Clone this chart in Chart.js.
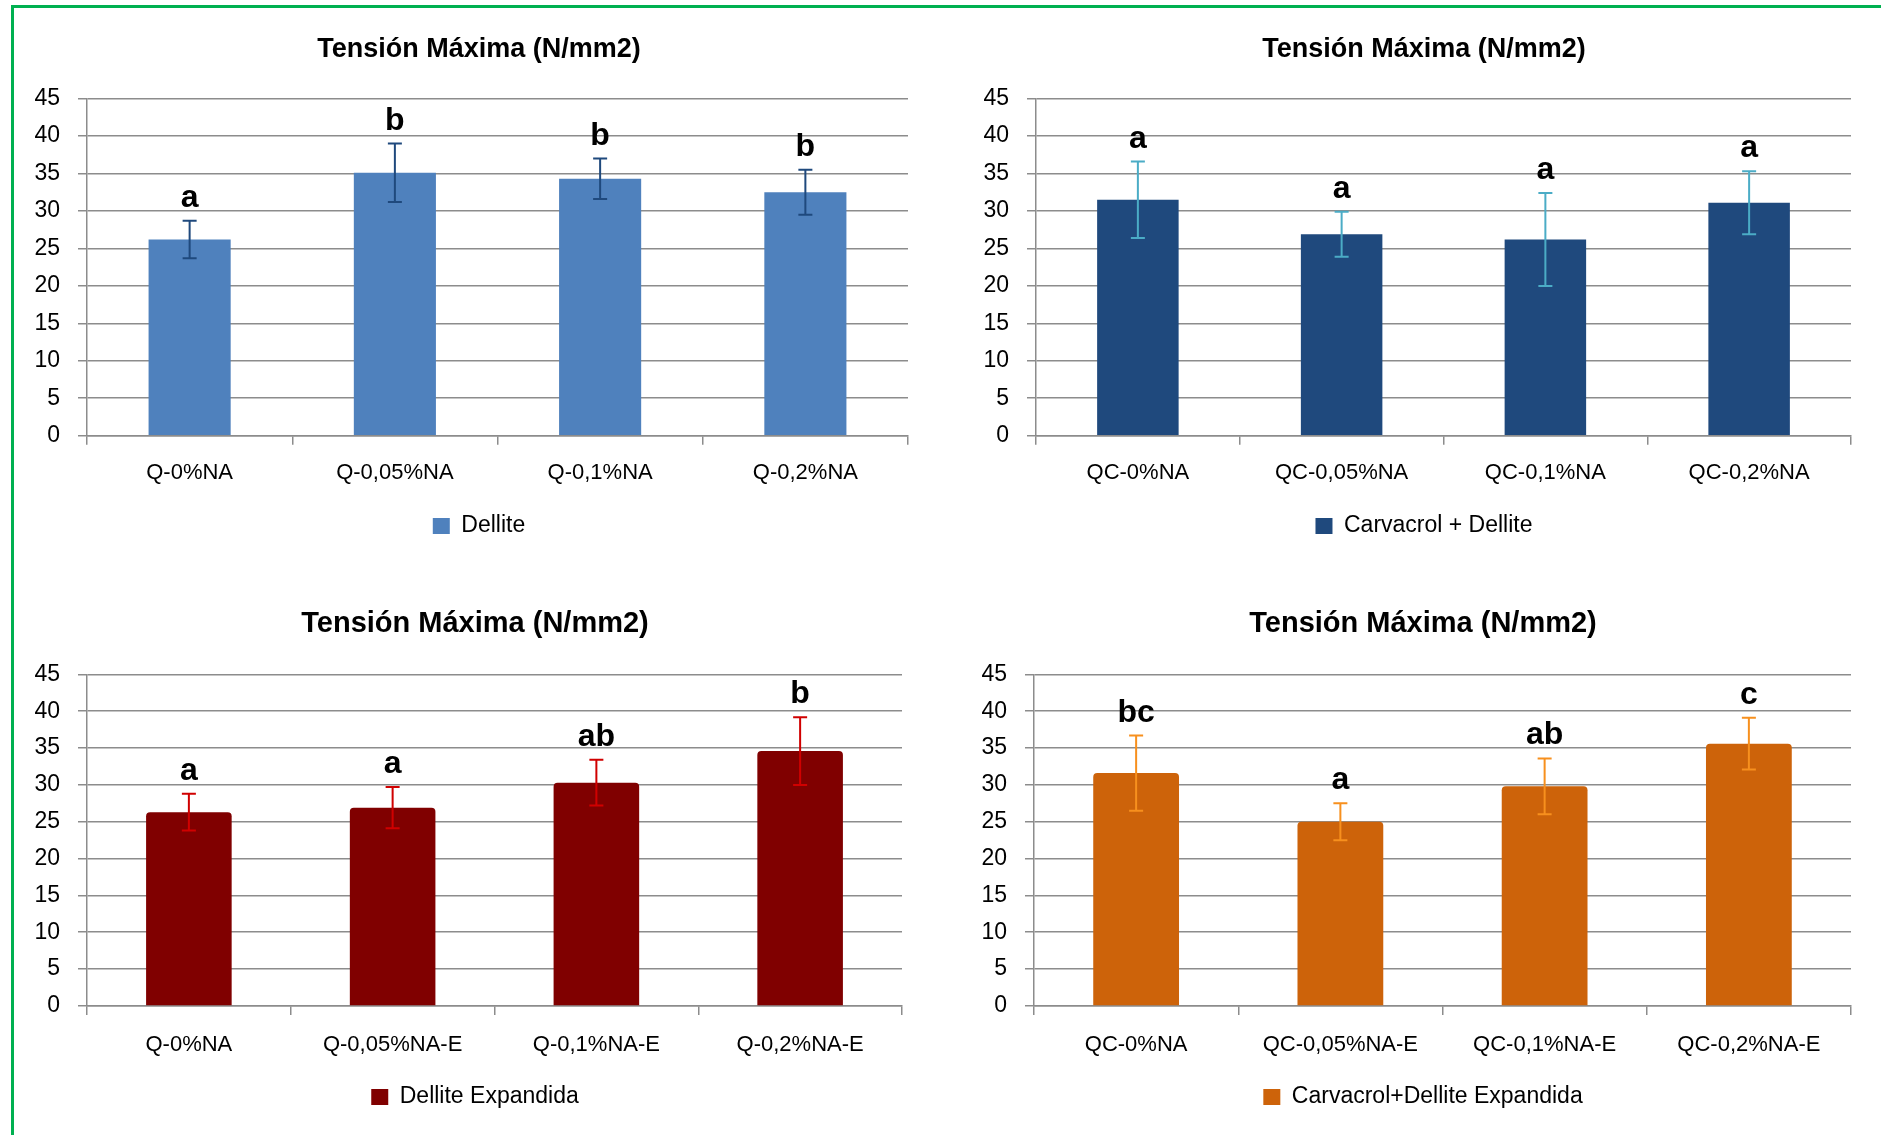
<!DOCTYPE html>
<html>
<head>
<meta charset="utf-8">
<script src="https://cdn.jsdelivr.net/npm/chart.js@4.4.1/dist/chart.umd.min.js"></script>
<style>
  html, body { margin: 0; padding: 0; background: #fff; }
  body { width: 1881px; height: 1135px; position: relative; overflow: hidden; }
  .frame { position: absolute; left: 11px; top: 5px; width: 1880px; height: 1140px;
           border-top: 3px solid #00B050; border-left: 3px solid #00B050; }
  .panel { position: absolute; }
  .panel canvas { display: block; }
</style>
</head>
<body>
<div class="frame"></div>
<div class="panel" id="p1" style="left:20px;top:20px;width:918px;height:530px;"><canvas id="c1"></canvas></div>
<div class="panel" id="p2" style="left:970px;top:20px;width:908px;height:530px;"><canvas id="c2"></canvas></div>
<div class="panel" id="p3" style="left:20px;top:580px;width:910px;height:540px;"><canvas id="c3"></canvas></div>
<div class="panel" id="p4" style="left:968px;top:580px;width:910px;height:540px;"><canvas id="c4"></canvas></div>
<script>
// Maximum tensile stress (N/mm2): means, standard deviations and significance letters
const chartTitle = 'Tensión Máxima (N/mm2)';
const yTicksMin = 0;
const yTicksMax = 45;
const yTicksStep = 5;

const categoriesDellite = ['Q-0%NA', 'Q-0,05%NA', 'Q-0,1%NA', 'Q-0,2%NA'];
const meanDellite = [26.2, 35.1, 34.3, 32.5];
const sdDellite = [2.5, 3.9, 2.7, 3.0];
const lettersDellite = ['a', 'b', 'b', 'b'];

const categoriesCarvacrol = ['QC-0%NA', 'QC-0,05%NA', 'QC-0,1%NA', 'QC-0,2%NA'];
const meanCarvacrol = [31.5, 26.9, 26.2, 31.1];
const sdCarvacrol = [5.1, 3.0, 6.2, 4.2];
const lettersCarvacrol = ['a', 'a', 'a', 'a'];

const categoriesExpandida = ['Q-0%NA', 'Q-0,05%NA-E', 'Q-0,1%NA-E', 'Q-0,2%NA-E'];
const meanExpandida = [26.3, 26.9, 30.3, 34.6];
const sdExpandida = [2.5, 2.8, 3.1, 4.6];
const lettersExpandida = ['a', 'a', 'ab', 'b'];

const categoriesCarvacrolExp = ['QC-0%NA', 'QC-0,05%NA-E', 'QC-0,1%NA-E', 'QC-0,2%NA-E'];
const meanCarvacrolExp = [31.6, 25.0, 29.8, 35.6];
const sdCarvacrolExp = [5.1, 2.5, 3.8, 3.5];
const lettersCarvacrolExp = ['bc', 'a', 'ab', 'c'];

const FONT = "'Liberation Sans', Arial, sans-serif";
const GRID = '#8c8c8c';

// Draws the ±SD whiskers and the significance letters above each bar
const errorBarPlugin = {
  id: 'errorBars',
  afterDatasetsDraw(chart, args, opts) {
    const ctx = chart.ctx;
    const meta = chart.getDatasetMeta(0);
    const yScale = chart.scales.y;
    const ds = chart.data.datasets[0];
    ctx.save();
    meta.data.forEach((bar, i) => {
      const v = ds.data[i];
      const sd = opts.sd[i];
      const x = bar.x;
      const yTop = yScale.getPixelForValue(v + sd);
      const yBot = yScale.getPixelForValue(v - sd);
      ctx.strokeStyle = opts.color;
      ctx.lineWidth = 2;
      ctx.beginPath();
      ctx.moveTo(x, yTop); ctx.lineTo(x, yBot);
      ctx.moveTo(x - 7, yTop); ctx.lineTo(x + 7, yTop);
      ctx.moveTo(x - 7, yBot); ctx.lineTo(x + 7, yBot);
      ctx.stroke();
      ctx.fillStyle = '#000';
      ctx.font = 'bold 32px ' + FONT;
      ctx.textAlign = 'center';
      ctx.textBaseline = 'alphabetic';
      ctx.fillText(opts.letters[i], x, yTop - 14);
    });
    ctx.restore();
  }
};

function makeChart(id, cfg) {
  const ctx = document.getElementById(id);
  return new Chart(ctx, {
    type: 'bar',
    data: {
      labels: cfg.labels,
      datasets: [{
        label: cfg.series,
        data: cfg.values,
        backgroundColor: cfg.color,
        borderColor: cfg.color,
        borderWidth: 0,
        borderRadius: cfg.radius || 0,
        borderSkipped: 'bottom',
        barPercentage: cfg.barPct,
        categoryPercentage: 1.0
      }]
    },
    options: {
      responsive: true,
      maintainAspectRatio: false,
      animation: false,
      devicePixelRatio: 1,
      layout: { padding: { left: 0, right: 0, top: 0, bottom: cfg.padBottom } },
      plugins: {
        title: {
          display: true,
          text: chartTitle,
          color: '#000',
          font: { family: FONT, size: cfg.titleSize, weight: 'bold' },
          padding: { top: cfg.titleTop, bottom: cfg.titleBottom }
        },
        legend: {
          display: true,
          position: 'bottom',
          labels: {
            color: '#000',
            font: { family: FONT, size: 23 },
            boxWidth: 17,
            boxHeight: 16,
            padding: 10
          }
        },
        tooltip: { enabled: false },
        errorBars: { sd: cfg.sd, letters: cfg.letters, color: cfg.errColor }
      },
      scales: {
        x: {
          z: cfg.axisOnTop ? 1 : 0,
          offset: true,
          grid: {
            offset: true,
            drawOnChartArea: false,
            drawTicks: true,
            tickLength: 9,
            color: GRID,
            lineWidth: 1.5
          },
          border: { display: true, color: GRID, width: 1.5 },
          ticks: {
            color: '#000',
            font: { family: FONT, size: 22 },
            padding: cfg.xPad,
            maxRotation: 0,
            autoSkip: false
          },
          afterFit(scale) { scale.height = cfg.xHeight; }
        },
        y: {
          min: yTicksMin,
          max: yTicksMax,
          ticks: {
            stepSize: yTicksStep,
            color: '#000',
            font: { family: FONT, size: 23 },
            padding: 18
          },
          grid: {
            color: GRID,
            lineWidth: 1.5,
            drawTicks: true,
            tickLength: 9
          },
          border: { display: true, color: GRID, width: 1.5 },
          afterFit(scale) { scale.width = cfg.yWidth; }
        },
        // empty right-hand margin so title and legend stay centred on the whole panel
        margin: {
          type: 'linear',
          position: 'right',
          display: true,
          grid: { display: false, drawTicks: false },
          border: { display: false },
          ticks: { display: false },
          afterFit(scale) { scale.width = cfg.padRight; }
        }
      }
    },
    plugins: [errorBarPlugin]
  });
}

makeChart('c1', {
  labels: categoriesDellite, values: meanDellite, sd: sdDellite, letters: lettersDellite,
  series: 'Dellite', color: '#4F81BD', errColor: '#1F497D', barPct: 0.4,
  titleSize: 27, titleTop: 13.8, titleBottom: 32.4,
  yWidth: 67, padRight: 30, padBottom: 2.5, xHeight: 68.8, xPad: 15
});

makeChart('c2', {
  labels: categoriesCarvacrol, values: meanCarvacrol, sd: sdCarvacrol, letters: lettersCarvacrol,
  series: 'Carvacrol + Dellite', color: '#1F497D', errColor: '#4BACC6', barPct: 0.4,
  titleSize: 27, titleTop: 13.8, titleBottom: 32.4,
  yWidth: 66, padRight: 27, padBottom: 2.5, xHeight: 68.8, xPad: 15
});

makeChart('c3', {
  labels: categoriesExpandida, values: meanExpandida, sd: sdExpandida, letters: lettersExpandida,
  series: 'Dellite Expandida', color: '#800000', errColor: '#D00000', barPct: 0.42,
  radius: 4, axisOnTop: true,
  titleSize: 29, titleTop: 26.6, titleBottom: 33,
  yWidth: 67, padRight: 28, padBottom: 1.5, xHeight: 69.6, xPad: 17
});

makeChart('c4', {
  labels: categoriesCarvacrolExp, values: meanCarvacrolExp, sd: sdCarvacrolExp, letters: lettersCarvacrolExp,
  series: 'Carvacrol+Dellite Expandida', color: '#CD630A', errColor: '#F7901E', barPct: 0.42,
  radius: 4, axisOnTop: true,
  titleSize: 29, titleTop: 26.6, titleBottom: 33,
  yWidth: 66, padRight: 27, padBottom: 1.5, xHeight: 69.6, xPad: 17
});
</script>
</body>
</html>
